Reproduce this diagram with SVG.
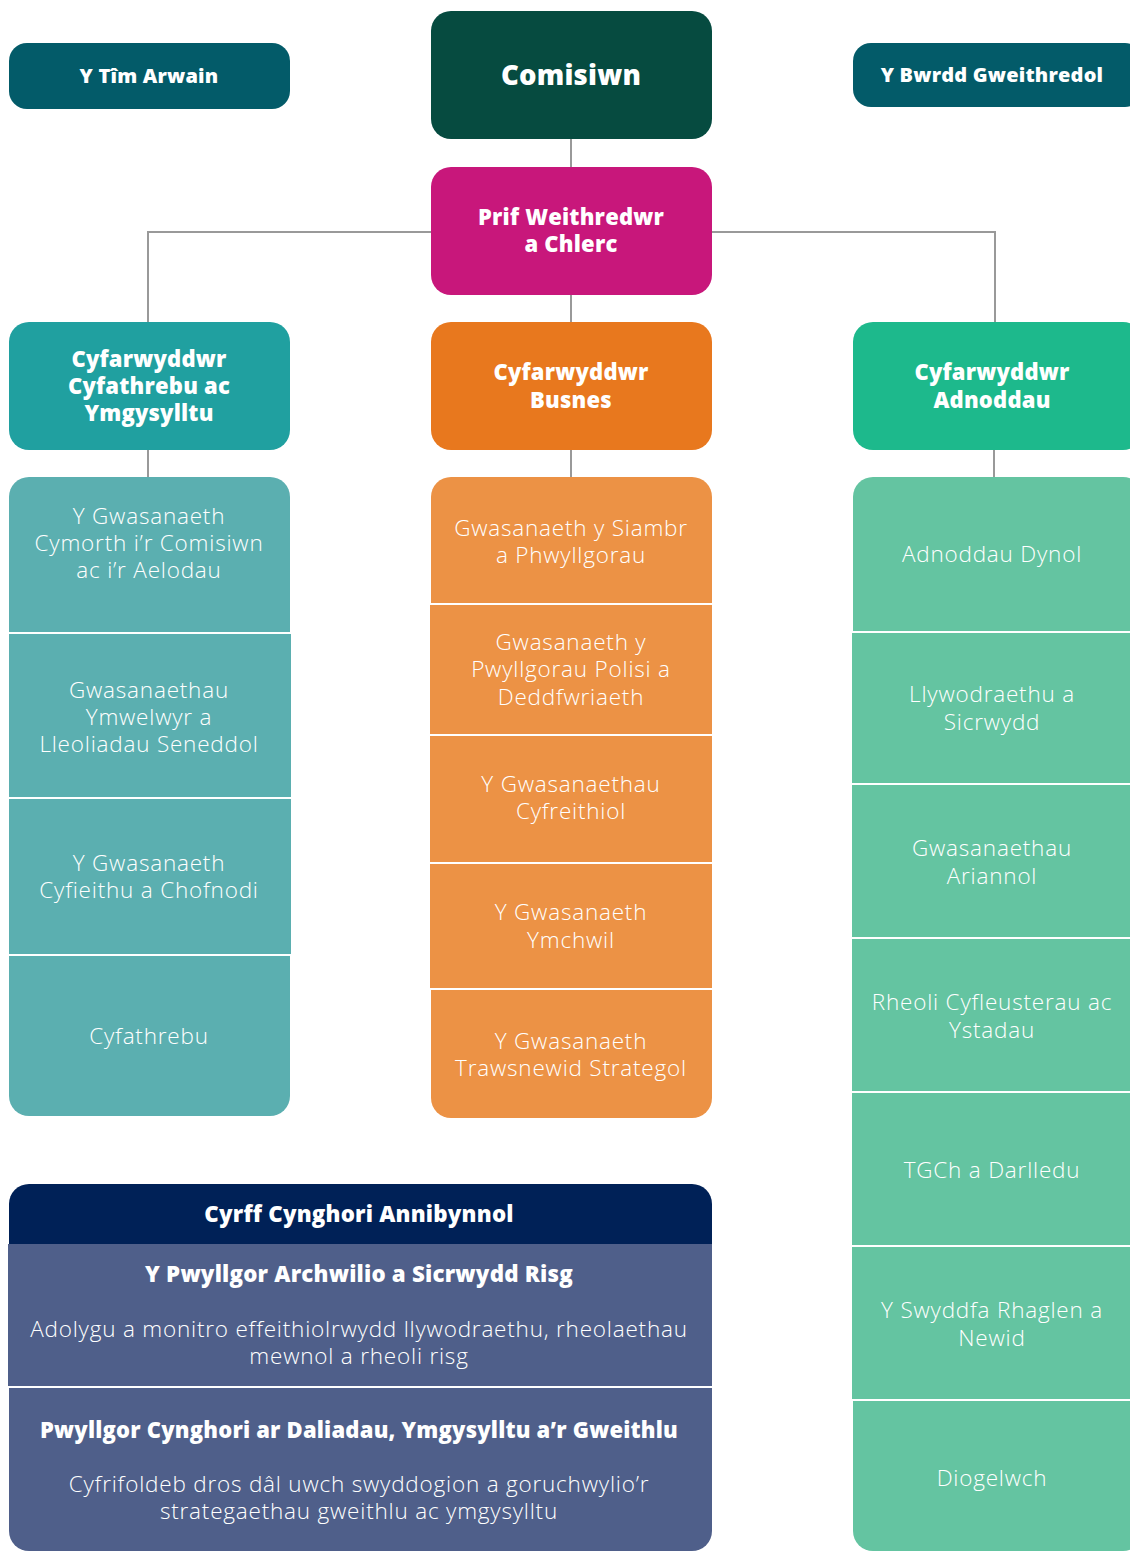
<svg xmlns="http://www.w3.org/2000/svg" width="1130" height="1551" viewBox="0 0 1130 1551">
<style>
.b{font-family:"Open Sans","Noto Sans",sans-serif;font-weight:800;fill:#fff;text-anchor:middle;letter-spacing:0.2px}
.l{font-family:"Open Sans","Noto Sans",sans-serif;font-weight:300;fill:#fff;text-anchor:middle;font-size:22.5px;letter-spacing:0.8px}
.c{fill:none;stroke:#999;stroke-width:2}
</style>
<rect width="1130" height="1551" fill="#fff"/>
<g id="connectors">
<path class="c" d="M571 139V167M571 295V322M148 322V232H995V322M148 450V477M571 450V477M994 450V477"/>
</g>
<g id="tim-arwain"><rect x="9" y="43" width="281" height="66" rx="18" fill="#035B69"/><text class="b" x="149" y="83" font-size="20">Y Tîm Arwain</text></g>
<g id="comisiwn"><rect x="431" y="11" width="281" height="128" rx="20" fill="#064B40"/><text class="b" x="571" y="85" font-size="27.5">Comisiwn</text></g>
<g id="bwrdd"><rect x="853" y="43" width="290" height="64" rx="18" fill="#035B69"/><text class="b" x="992" y="82" font-size="20">Y Bwrdd Gweithredol</text></g>
<g id="prif"><rect x="431" y="167" width="281" height="128" rx="20" fill="#C8177B"/><text class="b" x="571" y="225" font-size="22">Prif Weithredwr</text><text class="b" x="571" y="252" font-size="22">a Chlerc</text></g>
<g id="dir-cyfathrebu"><rect x="9" y="322" width="281" height="128" rx="20" fill="#20A0A0"/><text class="b" x="149" y="367" font-size="22">Cyfarwyddwr</text><text class="b" x="149" y="394" font-size="22">Cyfathrebu ac</text><text class="b" x="149" y="421" font-size="22">Ymgysylltu</text></g>
<g id="dir-busnes"><rect x="431" y="322" width="281" height="128" rx="20" fill="#E8781E"/><text class="b" x="571" y="380" font-size="22">Cyfarwyddwr</text><text class="b" x="571" y="408" font-size="22">Busnes</text></g>
<g id="dir-adnoddau"><rect x="853" y="322" width="290" height="128" rx="20" fill="#1DB98C"/><text class="b" x="992" y="380" font-size="22">Cyfarwyddwr</text><text class="b" x="992" y="408" font-size="22">Adnoddau</text></g>

<g id="left-col" fill="#5BAFB0">
<g id="l1"><path d="M9 632V497a20 20 0 0 1 20-20H270a20 20 0 0 1 20 20V632Z"/><text class="l" x="149" y="524">Y Gwasanaeth</text><text class="l" x="149" y="551">Cymorth i’r Comisiwn</text><text class="l" x="149" y="578">ac i’r Aelodau</text></g>
<g id="l2"><rect x="9" y="634" width="282" height="163"/><text class="l" x="149" y="698">Gwasanaethau</text><text class="l" x="149" y="725">Ymwelwyr a</text><text class="l" x="149" y="752">Lleoliadau Seneddol</text></g>
<g id="l3"><rect x="9" y="799" width="282" height="155"/><text class="l" x="149" y="871">Y Gwasanaeth</text><text class="l" x="149" y="898">Cyfieithu a Chofnodi</text></g>
<g id="l4"><path d="M9 956H290V1096a20 20 0 0 1-20 20H29a20 20 0 0 1-20-20Z"/><text class="l" x="149" y="1044">Cyfathrebu</text></g>
</g>

<g id="mid-col" fill="#EC9245">
<g id="m1"><path d="M431 603V497a20 20 0 0 1 20-20H692a20 20 0 0 1 20 20V603Z"/><text class="l" x="571" y="536">Gwasanaeth y Siambr</text><text class="l" x="571" y="563">a Phwyllgorau</text></g>
<g id="m2"><rect x="430" y="605" width="282" height="129"/><text class="l" x="571" y="650">Gwasanaeth y</text><text class="l" x="571" y="677">Pwyllgorau Polisi a</text><text class="l" x="571" y="705">Deddfwriaeth</text></g>
<g id="m3"><rect x="430" y="736" width="282" height="126"/><text class="l" x="571" y="792">Y Gwasanaethau</text><text class="l" x="571" y="819">Cyfreithiol</text></g>
<g id="m4"><rect x="430" y="864" width="282" height="124"/><text class="l" x="571" y="920">Y Gwasanaeth</text><text class="l" x="571" y="948">Ymchwil</text></g>
<g id="m5"><path d="M431 990H712V1098a20 20 0 0 1-20 20H451a20 20 0 0 1-20-20Z"/><text class="l" x="571" y="1049">Y Gwasanaeth</text><text class="l" x="571" y="1076">Trawsnewid Strategol</text></g>
</g>

<g id="right-col" fill="#64C4A1">
<g id="r1"><path d="M853 631V497a20 20 0 0 1 20-20H1123a20 20 0 0 1 20 20V631Z"/><text class="l" x="992" y="562">Adnoddau Dynol</text></g>
<g id="r2"><rect x="852" y="633" width="290" height="150"/><text class="l" x="992" y="702">Llywodraethu a</text><text class="l" x="992" y="730">Sicrwydd</text></g>
<g id="r3"><rect x="852" y="785" width="290" height="152"/><text class="l" x="992" y="856">Gwasanaethau</text><text class="l" x="992" y="884">Ariannol</text></g>
<g id="r4"><rect x="852" y="939" width="290" height="152"/><text class="l" x="992" y="1010">Rheoli Cyfleusterau ac</text><text class="l" x="992" y="1038">Ystadau</text></g>
<g id="r5"><rect x="852" y="1093" width="290" height="152"/><text class="l" x="992" y="1178">TGCh a Darlledu</text></g>
<g id="r6"><rect x="852" y="1247" width="290" height="152"/><text class="l" x="992" y="1318">Y Swyddfa Rhaglen a</text><text class="l" x="992" y="1346">Newid</text></g>
<g id="r7"><path d="M853 1401H1143V1531a20 20 0 0 1-20 20H873a20 20 0 0 1-20-20Z"/><text class="l" x="992" y="1486">Diogelwch</text></g>
</g>

<g id="cyrff">
<path d="M9 1244V1204a20 20 0 0 1 20-20H692a20 20 0 0 1 20 20V1244Z" fill="#002157"/>
<text class="b" x="359" y="1222" font-size="22.3">Cyrff Cynghori Annibynnol</text>
<g id="pwyllgor-archwilio"><rect x="8" y="1244" width="704" height="142" fill="#4F5F8A"/>
<text class="b" x="359" y="1282" font-size="22.3">Y Pwyllgor Archwilio a Sicrwydd Risg</text>
<text class="l" x="359" y="1337">Adolygu a monitro effeithiolrwydd llywodraethu, rheolaethau</text>
<text class="l" x="359" y="1364">mewnol a rheoli risg</text></g>
<g id="pwyllgor-cynghori"><path d="M9 1388H712V1531a20 20 0 0 1-20 20H29a20 20 0 0 1-20-20Z" fill="#4F5F8A"/>
<text class="b" x="359" y="1438" font-size="22">Pwyllgor Cynghori ar Daliadau, Ymgysylltu a’r Gweithlu</text>
<text class="l" x="359" y="1492">Cyfrifoldeb dros dâl uwch swyddogion a goruchwylio’r</text>
<text class="l" x="359" y="1519">strategaethau gweithlu ac ymgysylltu</text></g>
</g>
</svg>
